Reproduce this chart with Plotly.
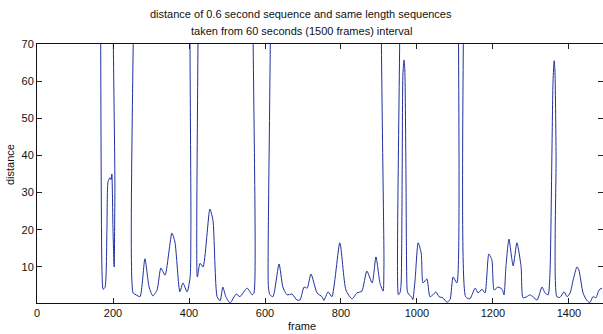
import plotly.graph_objects as go

frames = [166, 171, 174, 179, 184, 187, 192, 195, 197, 200, 203, 205, 211,
          229, 247, 253, 261, 271, 284, 295, 305, 316, 326, 337, 355, 363,
          376, 384, 395, 403, 405, 411, 418, 422, 429, 437, 455, 463, 474,
          482, 489, 497, 508, 524, 534, 553, 566, 571, 579, 601, 609, 613,
          621, 637, 647, 658, 671, 684, 692, 703, 711, 721, 737, 750, 755,
          766, 776, 797, 813, 829, 842, 855, 868, 882, 892, 903, 911, 913,
          920, 943, 951, 955, 958, 961, 963, 966, 968, 971, 974, 976, 987,
          989, 995, 1003, 1011, 1016, 1026, 1034, 1042, 1050, 1058, 1068,
          1079, 1087, 1095, 1105, 1114, 1120, 1128, 1139, 1153, 1161, 1171,
          1179, 1189, 1197, 1203, 1213, 1224, 1229, 1234, 1242, 1253, 1263,
          1274, 1279, 1289, 1297, 1305, 1316, 1329, 1337, 1345, 1350, 1355,
          1358, 1361, 1363, 1366, 1368, 1376, 1387, 1395, 1403, 1411, 1421,
          1426, 1437, 1447, 1455, 1463, 1471, 1479, 1487]
distance = [150, 9, 4, 4.5, 20, 33, 34, 33.5, 35, 20, 10, 30, 150,
            150, 150, 3, 2.5, 2.0, 12.2, 4.6, 2.2, 3.8, 9.7, 7.8, 19.1, 16.7,
            3.3, 5.7, 3.3, 7.3, 20, 150, 150, 7.3, 11, 10, 25.6, 22.6, 2.0,
            0.9, 4.6, 2.0, 0.3, 2.7, 2.0, 4.3, 2.5, 3, 150, 150, 4.6, 2.5,
            2.0, 10.8, 4.6, 2.5, 2.7, 1.1, 1.1, 4.6, 4.3, 8.1, 3.0, 2.0, 1.0,
            3.3, 2.0, 16.5, 3.8, 1.4, 3.0, 3.5, 8.9, 5.7, 12.7, 5.5, 3.5, 10,
            150, 150, 2.5, 3, 5, 35, 62, 65.7, 63, 35, 4, 3, 1.7,
            1.2, 6.5, 16.5, 13.8, 5.7, 6.8, 2.0, 2.5, 3.3, 2.0, 1.7,
            0.5, 1.2, 7.3, 5.7, 150, 150, 2, 1.4, 4.3, 3.0, 4.0,
            3.0, 13.5, 11.9, 3.8, 4.6, 4.0, 2.5, 10, 17.5, 10.3, 16.5,
            10, 1.7, 2.0, 2.5, 2.0, 1.1, 4.6, 3.0, 2.5, 8.5, 40,
            60, 65.5, 63, 40, 2, 1.8, 3.3, 2.0, 3.0, 6.5, 10,
            9.2, 3.0, 1.0, 0.4, 2.0, 1.7, 3.8, 4.3]

x_ticks = [0, 200, 400, 600, 800, 1000, 1200, 1400]
y_ticks = [10, 20, 30, 40, 50, 60, 70]

FONT = "Liberation Sans, Arial, sans-serif"

fig = go.Figure()
fig.add_trace(go.Scatter(x=frames, y=distance, mode="lines",
                         line=dict(color="#1f2f9f", width=1, shape="spline",
                                   smoothing=0.6),
                         cliponaxis=True, showlegend=False, hoverinfo="skip"))
# invisible trace to carry right-side ticks
fig.add_trace(go.Scatter(x=[frames[0]], y=[distance[1]], mode="lines",
                         yaxis="y2", line=dict(width=0), showlegend=False,
                         hoverinfo="skip"))

fig.update_layout(
    width=603, height=334,
    margin=dict(l=37, r=0, t=44, b=31),
    paper_bgcolor="white", plot_bgcolor="white",
    font=dict(family=FONT, size=11, color="#111"),
    xaxis=dict(range=[0, 1489.5], tickvals=x_ticks, ticks="inside", ticklen=5,
               tickcolor="#222", showline=True, linecolor="#111", linewidth=1,
               mirror="ticks", showgrid=False, zeroline=False,
               tickfont=dict(size=11, family=FONT, color="#111")),
    yaxis=dict(range=[0.3, 70], tickvals=y_ticks, ticks="inside", ticklen=5,
               tickcolor="#222", showline=True, linecolor="#111", linewidth=1,
               mirror=False, showgrid=False, zeroline=False,
               tickfont=dict(size=11, family=FONT, color="#111")),
    yaxis2=dict(range=[0.3, 70], tickvals=y_ticks, ticks="inside", ticklen=5,
                tickcolor="#222", overlaying="y", side="right",
                showline=False, showticklabels=False, showgrid=False,
                zeroline=False),
    annotations=[
        dict(text="distance of 0.6 second sequence and same length sequences",
             x=301, y=334 - 14, showarrow=False,
             font=dict(size=11, family=FONT, color="#111")),
        dict(text="taken from 60 seconds (1500 frames) interval",
             x=301, y=334 - 31, showarrow=False,
             font=dict(size=11, family=FONT, color="#111")),
        dict(text="frame", x=302, y=334 - 326, showarrow=False,
             font=dict(size=11, family=FONT, color="#111")),
        dict(text="distance", x=10, y=334 - 165, showarrow=False, textangle=-90,
             font=dict(size=11, family=FONT, color="#111")),
    ],
)

# convert pixel-positioned annotation coordinates to paper fractions
W, H = 603, 334
pl, pr, pt, pb = 37, 0, 44, 31
pw, ph = W - pl - pr, H - pt - pb
for a in fig.layout.annotations:
    a.xref = "paper"
    a.yref = "paper"
    a.x = (a.x - pl) / pw
    a.y = (a.y - pb) / ph
    a.xanchor = "center"
    a.yanchor = "middle"

fig.write_html("out.html")
